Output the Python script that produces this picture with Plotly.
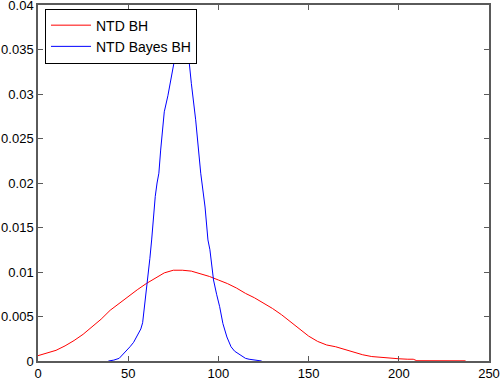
import plotly.graph_objects as go

# NTD BH (red)
red_x = [0, 5, 10, 15, 20, 25, 30, 35, 40, 45, 50, 55, 60, 65, 70, 75, 80, 85, 90, 95,
         100, 105, 110, 115, 120, 125, 130, 135, 140, 145, 150, 155, 160, 165, 170, 175,
         180, 185, 190, 195, 200, 205, 208, 210, 220, 230, 237]
red_y = [0.0006, 0.0009, 0.0012, 0.0017, 0.0023, 0.0030, 0.0038, 0.0047, 0.0057, 0.0065,
         0.0072, 0.0080, 0.0087, 0.0093, 0.0099, 0.0102, 0.0102, 0.0101, 0.0098, 0.0095,
         0.0091, 0.0087, 0.0082, 0.0076, 0.0071, 0.0065, 0.0059, 0.0052, 0.0044, 0.0036,
         0.0028, 0.0022, 0.0018, 0.0016, 0.0013, 0.0010, 0.0007, 0.0005, 0.0004, 0.0003,
         0.00025, 0.0002, 0.0002, 0.00003, 0.00002, 0.00002, 0.00002]

# NTD Bayes BH (blue)
blue_x = [39, 42, 45, 47, 49, 51, 53, 55, 57, 58, 59, 60, 61, 62, 63, 64, 65, 66, 67, 68,
          69, 70, 72, 74, 76, 78, 80, 82, 83.3, 85, 87.4, 88.9, 90.2, 92.6, 94.2, 95.3,
          97.3, 99, 100.7, 102.5, 104.7, 107, 109, 112, 115, 117, 120, 124]
blue_y = [0.0, 0.0001, 0.0003, 0.0007, 0.0011, 0.0016, 0.0021, 0.0028, 0.0036, 0.0043,
          0.0060, 0.0075, 0.0091, 0.0115, 0.0136, 0.0165, 0.0185, 0.0200, 0.0211, 0.0237,
          0.0260, 0.0280, 0.0298, 0.0320, 0.0342, 0.0370, 0.0385, 0.0372, 0.0342, 0.0312,
          0.0271, 0.0237, 0.0211, 0.0173, 0.0136, 0.0125, 0.0091, 0.0075, 0.0061, 0.0042,
          0.0027, 0.0016, 0.0011, 0.0007, 0.0003, 0.0002, 0.0001, 0.0]

x_ticks = [0, 50, 100, 150, 200, 250]
y_ticks = [0, 0.005, 0.01, 0.015, 0.02, 0.025, 0.03, 0.035, 0.04]
y_ticktext = ["0", "0.005", "0.01", "0.015", "0.02", "0.025", "0.03", "0.035", "0.04"]

fig = go.Figure()
fig.add_trace(go.Scatter(x=red_x, y=red_y, mode="lines", name="NTD BH",
                         line=dict(color="rgb(255,0,0)", width=1)))
fig.add_trace(go.Scatter(x=blue_x, y=blue_y, mode="lines", name="NTD Bayes BH",
                         line=dict(color="rgb(0,0,255)", width=1)))

axis_common = dict(showgrid=False, zeroline=False, showline=True, mirror="ticks",
                   linecolor="rgb(90,90,90)", linewidth=1.5, ticks="inside",
                   ticklen=5, tickcolor="rgb(90,90,90)", tickwidth=1, automargin=False,
                   ticklabeloverflow="allow",
                   tickfont=dict(family="Liberation Sans, Arial", size=13, color="black"))

fig.update_layout(
    width=502, height=379,
    margin=dict(l=38, r=13, t=5, b=18),
    paper_bgcolor="white", plot_bgcolor="white",
    showlegend=True,
    legend=dict(x=0.0155, y=0.99, xanchor="left", yanchor="top",
                bordercolor="black", borderwidth=1, bgcolor="white",
                font=dict(family="Liberation Sans, Arial", size=14, color="black"),
                itemwidth=40, tracegroupgap=0),
    xaxis=dict(range=[0, 250], tickvals=x_ticks, ticktext=[str(v) for v in x_ticks],
               ticklabelstandoff=0, **axis_common),
    yaxis=dict(range=[0, 0.04], tickvals=y_ticks, ticktext=y_ticktext, **axis_common),
)

fig.write_html("out.html", config={"displayModeBar": False},
               post_script="document.body.style.margin='0';document.body.style.overflow='hidden';")
